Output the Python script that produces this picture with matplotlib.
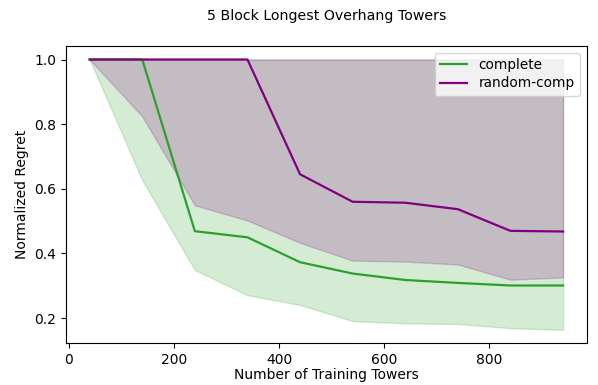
import matplotlib
matplotlib.use("Agg")
import matplotlib.pyplot as plt

towers = [40, 140, 240, 340, 440, 540, 640, 740, 840, 940]

complete_med = [1.0, 1.0, 0.469, 0.450, 0.373, 0.338, 0.318, 0.309, 0.301, 0.301]
complete_lo = [1.0, 0.627, 0.349, 0.271, 0.241, 0.191, 0.184, 0.182, 0.169, 0.164]
complete_hi = [1.0, 1.0, 1.0, 1.0, 1.0, 1.0, 1.0, 1.0, 1.0, 1.0]

random_med = [1.0, 1.0, 1.0, 1.0, 0.645, 0.560, 0.557, 0.537, 0.470, 0.468]
random_lo = [1.0, 0.824, 0.549, 0.502, 0.433, 0.378, 0.375, 0.366, 0.319, 0.326]
random_hi = [1.0, 1.0, 1.0, 1.0, 1.0, 1.0, 1.0, 1.0, 1.0, 1.0]

fig = plt.figure(figsize=(5.98, 3.85), dpi=100)
ax = fig.add_axes([66/598, 1-343.3/385, (586.7-66)/598, (343.3-46)/385])

ax.fill_between(towers, complete_lo, complete_hi, color="#2ca02c", alpha=0.2)
ax.plot(towers, complete_med, color="#2ca02c", lw=1.6, label="complete")
ax.fill_between(towers, random_lo, random_hi, color="purple", alpha=0.2)
ax.plot(towers, random_med, color="purple", lw=1.6, label="random-comp")

ax.set_xticks([0, 200, 400, 600, 800])
ax.set_yticks([0.2, 0.4, 0.6, 0.8, 1.0])
ax.tick_params(labelsize=10)
ax.set_xlabel("Number of Training Towers", fontsize=10, labelpad=1)
ax.set_ylabel("Normalized Regret", fontsize=10)
ax.set_title("5 Block Longest Overhang Towers", fontsize=10.2, pad=19)
ax.legend(loc="upper right", fontsize=9.8, labelspacing=0.3)

fig.savefig("out.png", dpi=100)
